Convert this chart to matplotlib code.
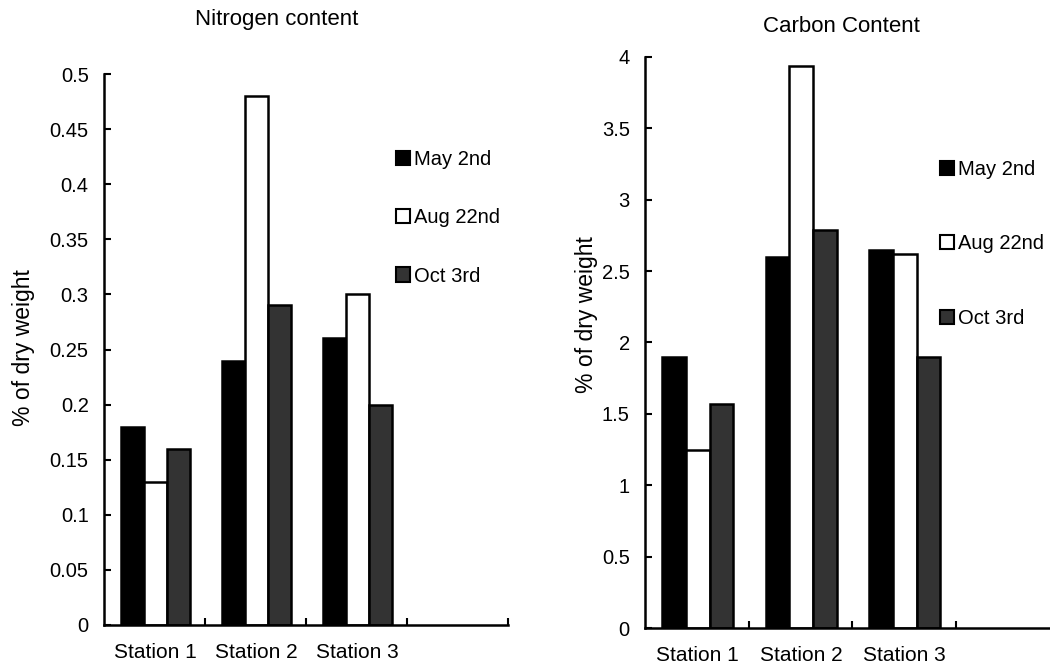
import numpy as np
import matplotlib
matplotlib.use("Agg")
from matplotlib import pyplot as plt
from matplotlib.patches import Patch

plt.rcParams['font.family'] = ['Liberation Sans', 'DejaVu Sans']

stations = ["Station 1", "Station 2", "Station 3"]
series = ["May 2nd", "Aug 22nd", "Oct 3rd"]

# nitrogen, % of dry weight
n_may = [0.18, 0.24, 0.26]
n_aug = [0.13, 0.48, 0.30]
n_oct = [0.16, 0.29, 0.20]

# carbon, % of dry weight
c_may = [1.90, 2.60, 2.65]
c_aug = [1.25, 3.94, 2.62]
c_oct = [1.57, 2.79, 1.90]

n_ticks = ["0", "0.05", "0.1", "0.15", "0.2", "0.25", "0.3", "0.35", "0.4", "0.45", "0.5"]
c_ticks = ["0", "0.5", "1", "1.5", "2", "2.5", "3", "3.5", "4"]

W, H = 1050, 666
fig = plt.figure(figsize=(W/100, H/100), dpi=100)

faces = ["black", "white", "#333333"]


def px(x0, y0, x1, y1):
    # pixel box -> figure fraction rect
    return [x0/W, (H-y1)/H, (x1-x0)/W, (y1-y0)/H]


def draw(ax, vals, ymax, ystep, yticks, leg_at, spacing):
    x = np.arange(len(stations)) + 0.51
    bw = 0.23
    for k, v in enumerate(vals):
        ax.bar(x + (k-1)*bw, v, bw, color=faces[k], edgecolor="black",
               linewidth=1.8, label=series[k], zorder=2)
    ax.set_xlim(0, 4)
    ax.set_ylim(0, ymax)
    ax.set_yticks(np.arange(len(yticks))*ystep)
    ax.set_yticklabels(yticks, fontsize=14.5)
    ax.set_xticks(x)
    ax.set_xticklabels(stations, fontsize=15)
    ax.set_xticks([1, 2, 3, 4], minor=True)
    ax.tick_params(axis="x", which="major", length=0, pad=13)
    ax.tick_params(axis="x", which="minor", direction="in", length=5, width=1.5)
    ax.tick_params(axis="y", direction="in", length=5, width=1.5, pad=11)
    for s in ["top", "right"]:
        ax.spines[s].set_visible(False)
    for s in ["left", "bottom"]:
        ax.spines[s].set_linewidth(1.8)
    handles = [Patch(facecolor=faces[k], edgecolor="black", linewidth=1.5)
               for k in range(3)]
    ax.legend(handles, series, frameon=False, fontsize=14.5,
              handlelength=0.7, handleheight=0.7, handletextpad=0.2,
              labelspacing=spacing, loc="center left", borderpad=0,
              borderaxespad=0, bbox_to_anchor=leg_at)


ax1 = fig.add_axes(px(104, 74, 508, 625))
draw(ax1, [n_may, n_aug, n_oct], 0.5, 0.05, n_ticks, (0.722, 0.739), 1.95)
ax2 = fig.add_axes(px(645, 57, 1059, 628))
draw(ax2, [c_may, c_aug, c_oct], 4, 0.5, c_ticks, (0.712, 0.673), 2.75)

fig.text(195/W, 1-20/H, "Nitrogen content", ha="left", va="center", fontsize=16)
fig.text(763/W, 1-27/H, "Carbon Content", ha="left", va="center", fontsize=16)
fig.text(24/W, 1-348/H, "% of dry weight", rotation=90, ha="center", va="center", fontsize=16.5)
fig.text(586/W, 1-315/H, "% of dry weight", rotation=90, ha="center", va="center", fontsize=16.5)

fig.savefig("out.png", dpi=100)
